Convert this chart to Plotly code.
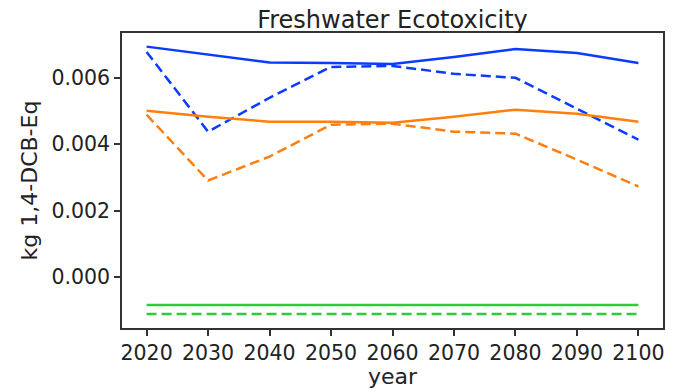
import plotly.graph_objects as go

years = [2020, 2030, 2040, 2050, 2060, 2070, 2080, 2090, 2100]
blue_solid = [0.00694, 0.00669, 0.00646, 0.00645, 0.00642, 0.00663, 0.00687, 0.00675, 0.00645]
blue_dashed = [0.00678, 0.00438, 0.00540, 0.00633, 0.00636, 0.00612, 0.00600, 0.00507, 0.00414]
orange_solid = [0.00501, 0.00483, 0.00468, 0.00468, 0.00465, 0.00483, 0.00504, 0.00492, 0.00468]
orange_dashed = [0.00489, 0.00291, 0.00363, 0.00459, 0.00462, 0.00438, 0.00432, 0.00354, 0.00273]
green_solid = [-0.00084] * 9
green_dashed = [-0.00111] * 9

title_text = "Freshwater Ecotoxicity"
y_title = "kg 1,4-DCB-Eq"
x_title = "year"
y_ticks = [0.0, 0.002, 0.004, 0.006]
y_ticklabels = ["0.000", "0.002", "0.004", "0.006"]

BLUE = "#0a3cff"
ORANGE = "#ff7f0e"
GREEN = "#2ecc3a"

series = [
    (blue_solid, BLUE, "solid"),
    (blue_dashed, BLUE, "10px,5px"),
    (orange_solid, ORANGE, "solid"),
    (orange_dashed, ORANGE, "10px,5px"),
    (green_solid, GREEN, "solid"),
    (green_dashed, GREEN, "10px,5px"),
]

fig = go.Figure()
for vals, col, dash in series:
    fig.add_trace(go.Scatter(x=years, y=vals, mode="lines",
                             line=dict(color=col, width=2.5, dash=dash),
                             showlegend=False))

font = "DejaVu Sans, sans-serif"
axis_common = dict(showline=True, linecolor="#333333", linewidth=1.6, mirror=True,
                   ticks="outside", ticklen=6, tickwidth=1.6, tickcolor="#333333",
                   showgrid=False, zeroline=False,
                   tickfont=dict(family=font, size=20.5, color="#222222"))

fig.update_layout(
    width=673, height=389,
    margin=dict(l=122, r=8, t=33, b=60),
    paper_bgcolor="white", plot_bgcolor="white",
    title=dict(text=title_text, x=0.5, xref="paper", xanchor="center",
               y=1 - 20 / 389, yref="container", yanchor="middle",
               font=dict(family=font, size=24, color="#222222")),
    xaxis=dict(range=[2016, 2104], tickmode="array", tickvals=years,
               ticktext=[str(y) for y in years],
               title=dict(text=x_title, font=dict(family=font, size=22, color="#222222"), standoff=0),
               **axis_common),
    yaxis=dict(range=[-0.00153, 0.00735], tickmode="array", tickvals=y_ticks,
               ticktext=y_ticklabels,
               title=dict(text=y_title, font=dict(family=font, size=22, color="#222222"), standoff=8),
               **axis_common),
)

fig.write_html("out.html")
